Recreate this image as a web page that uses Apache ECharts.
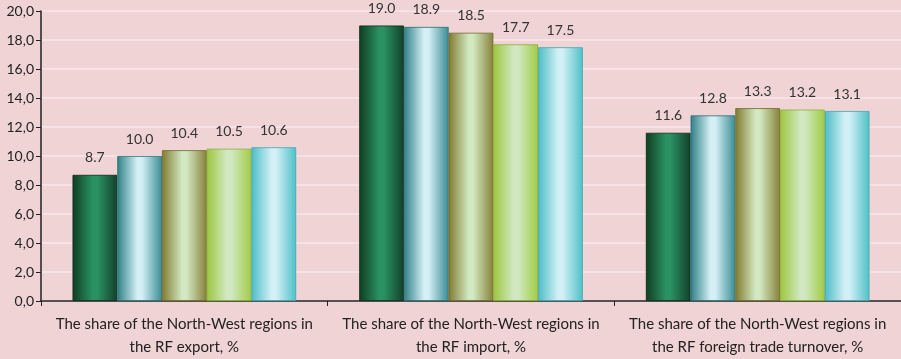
<!DOCTYPE html>
<html>
<head>
<meta charset="utf-8">
<script src="https://cdn.jsdelivr.net/npm/echarts@6/dist/echarts.min.js"></script>
<style>
    html, body { margin: 0; padding: 0; background: #f0d3d5; }
    #chart { width: 901px; height: 359px; }
</style>
</head>
<body>
<div id="chart"></div>
<script>
// Data
const categories = [
    'The share of the North-West regions in\nthe RF export, %',
    'The share of the North-West regions in\nthe RF import, %',
    'The share of the North-West regions in\nthe RF foreign trade turnover, %'
];
const seriesNames = ['Series 1', 'Series 2', 'Series 3', 'Series 4', 'Series 5'];
const seriesValues = [
    [8.7, 19.0, 11.6],
    [10.0, 18.9, 12.8],
    [10.4, 18.5, 13.3],
    [10.5, 17.7, 13.2],
    [10.6, 17.5, 13.1]
];

// Cylinder-like horizontal gradients: [edge left, centre, edge right, top border]
const barColors = [
    ['#0f3d22', '#2a9262', '#12402a', '#0c2a18'],
    ['#2f7f86', '#d4f0f6', '#3a8c94', '#2a6e74'],
    ['#807a30', '#d2e8c0', '#86823a', '#6e6a2a'],
    ['#9cc63c', '#d2e8c2', '#a2cc44', '#88b030'],
    ['#4cbcc6', '#d2f0f6', '#4ec0c8', '#40a8b0']
];

function grad(c) {
    return new echarts.graphic.LinearGradient(0, 0, 1, 0, [
        { offset: 0, color: c[0] },
        { offset: 0.45, color: c[1] },
        { offset: 0.55, color: c[1] },
        { offset: 1, color: c[2] }
    ]);
}

const chart = echarts.init(document.getElementById('chart'));

const option = {
    backgroundColor: '#f0d3d5',
    animation: false,
    textStyle: { fontFamily: 'Lato, "Open Sans", sans-serif' },
    grid: { left: 41, right: 0, top: 11, bottom: 52 },
    xAxis: {
        type: 'category',
        data: categories,
        axisLine: { lineStyle: { color: '#222', width: 1.5 } },
        axisTick: { show: true, length: 5, lineStyle: { color: '#222' } },
        axisLabel: {
            color: '#222',
            fontSize: 15,
            lineHeight: 23,
            margin: 12,
            interval: 0
        }
    },
    yAxis: {
        type: 'value',
        min: 0,
        max: 20,
        interval: 2,
        axisLine: { show: true, lineStyle: { color: '#222', width: 1.5 } },
        axisTick: { show: true, length: 5, lineStyle: { color: '#222' } },
        axisLabel: {
            color: '#222',
            fontSize: 14,
            margin: 7,
            formatter: v => v.toFixed(1).replace('.', ',')
        },
        splitLine: { lineStyle: { color: '#f8e6e8', width: 1.5 } }
    },
    series: seriesNames.map((name, i) => ({
        name: name,
        type: 'bar',
        data: seriesValues[i],
        barGap: '0%',
        barCategoryGap: '22%',
        itemStyle: {
            color: grad(barColors[i]),
            borderColor: barColors[i][3],
            borderWidth: 0.8
        },
        label: {
            show: true,
            position: 'top',
            distance: 10,
            color: '#333',
            fontSize: 14,
            formatter: p => p.value.toFixed(1)
        }
    }))
};

chart.setOption(option);
</script>
</body>
</html>
